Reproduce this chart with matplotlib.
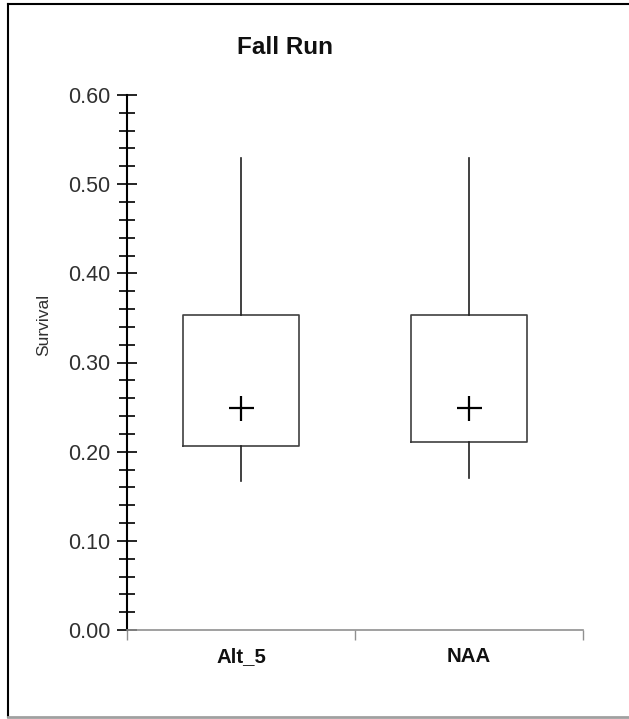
import matplotlib.pyplot as plt
from matplotlib.lines import Line2D
from matplotlib.ticker import MultipleLocator

plt.rcParams['font.family'] = ['Liberation Sans', 'DejaVu Sans']

# valori
labels = ['Alt_5', 'NAA']
whislo = [0.167, 0.170]
q1 = [0.206, 0.211]
q3 = [0.353, 0.353]
whishi = [0.529, 0.529]
means = [0.249, 0.249]

stats = []
for i in range(len(labels)):
    stats.append({'label': labels[i], 'whislo': whislo[i], 'q1': q1[i],
                  'med': q1[i], 'q3': q3[i], 'whishi': whishi[i],
                  'mean': means[i], 'fliers': []})

fig = plt.figure(figsize=(6.29, 7.19), dpi=100)
ax = fig.add_axes([127 / 629, 89 / 719, 456 / 629, 535 / 719])

ax.bxp(stats, positions=[0.5, 1.5], widths=0.505, showmeans=True,
       showcaps=False, showfliers=False,
       boxprops=dict(color='#404040', linewidth=1.2),
       whiskerprops=dict(color='#202020', linewidth=1.2),
       medianprops=dict(visible=False),
       meanprops=dict(marker='+', markersize=18, markeredgecolor='black',
                      markeredgewidth=1.6))

ax.set_xlim(0, 2)
ax.set_ylim(0, 0.6)
ax.set_xticks([0, 1, 2])
ax.set_xticklabels([])
ax.set_xticks([0.5, 1.5], labels, minor=True)
ax.tick_params(axis='x', which='major', direction='out', length=7,
               color='#909090', width=1)
ax.tick_params(axis='x', which='minor', length=0, labelsize=14.7, pad=12,
               labelcolor='#101010')
for t in ax.get_xticklabels(minor=True):
    t.set_fontweight('bold')

ax.yaxis.set_minor_locator(MultipleLocator(0.02))
ax.set_yticks([0, 0.1, 0.2, 0.3, 0.4, 0.5, 0.6],
              ['0.00', '0.10', '0.20', '0.30', '0.40', '0.50', '0.60'])
ax.tick_params(axis='y', which='major', direction='inout', length=14,
               width=1.2, labelsize=15.5, pad=5, labelcolor='#303030')
ax.tick_params(axis='y', which='minor', direction='inout', length=11,
               width=1.2)

for s in ['top', 'right']:
    ax.spines[s].set_visible(False)
ax.spines['left'].set_linewidth(1.5)
ax.spines['bottom'].set_color('#909090')
ax.spines['bottom'].set_linewidth(1.2)

ax.set_ylabel('Survival', fontsize=12.5, color='#303030')
ax.yaxis.set_label_coords(-76 / 456, 0.57)
fig.text(285 / 629, 1 - 48 / 719, 'Fall Run', ha='center', va='center',
         fontsize=17.5, fontweight='bold', color='#101010')

# cornice
fig.add_artist(Line2D([8 / 629, 8 / 629], [2 / 719, 1 - 4 / 719],
                      transform=fig.transFigure, color='black', lw=1.5))
fig.add_artist(Line2D([8 / 629, 1], [1 - 4 / 719, 1 - 4 / 719],
                      transform=fig.transFigure, color='black', lw=1.5))
fig.add_artist(Line2D([8 / 629, 1], [2 / 719, 2 / 719],
                      transform=fig.transFigure, color='#a0a0a0', lw=2))

fig.savefig('out.png', dpi=100)
